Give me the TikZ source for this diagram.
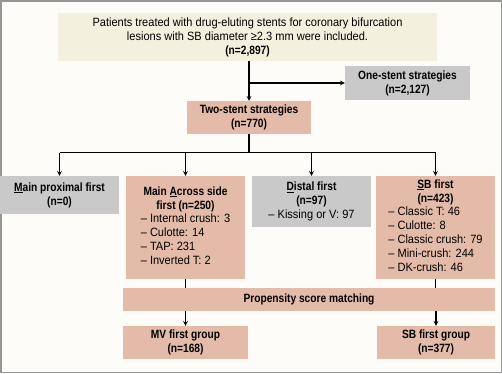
\documentclass[tikz,border=0pt]{standalone}
\usepackage{fontspec}
\setmainfont{Liberation Sans}[FakeStretch=0.92, BoldFeatures={FakeStretch=0.85}]
\usetikzlibrary{positioning}
\usetikzlibrary{arrows}
\definecolor{fondo}{RGB}{253,252,248}
\definecolor{marco}{RGB}{150,150,150}
\definecolor{beige}{RGB}{243,240,222}
\definecolor{rosa}{RGB}{228,187,168}
\definecolor{gris}{RGB}{201,201,201}
\tikzstyle{every caja} = [inner sep=2pt, align=center, font=\fontsize{12}{14}\selectfont]
\tikzstyle{caja} = [draw=none, every caja]
\tikzstyle{link} = [->, >=stealth, line width=1.1pt]

\begin{document}
\begin{tikzpicture}[x=1pt, y=-1pt]
        \fill[fondo] (0,0) rectangle (502,373);
        \draw[marco, line width=1.5pt] (0.75,0.75) rectangle (501.25,372.25);

        \node[caja, fill=beige, minimum width=379pt, minimum height=48pt] (total) at (247.5,37)
            {Patients treated with drug-eluting stents for coronary bifurcation\\
             lesions with SB diameter ≥2.3 mm were included.\\ \textbf{(n=2,897)}};
        \node[caja, fill=gris, minimum width=125pt, minimum height=34pt] (uno) at (407.5,83)
            {\textbf{One-stent strategies}\\ \textbf{(n=2,127)}};
        \node[caja, fill=rosa, minimum width=124pt, minimum height=33pt] (dos) at (249,117.5)
            {\textbf{Two-stent strategies}\\ \textbf{(n=770)}};

        % cuatro tecnicas
        \node[caja, fill=gris, minimum width=119pt, minimum height=38pt] (mp) at (59.5,195)
            {\textbf{\underline{M}ain proximal first}\\ \textbf{(n=0)}};
        \node[caja, fill=rosa, minimum width=119pt, minimum height=103pt] (mas) at (185.5,227.5)
            {\textbf{Main \underline{A}cross side}\\ \textbf{first (n=250)}\\
             \begin{tabular}{@{}l@{}}– Internal crush: 3\\ – Culotte: 14\\ – TAP: 231\\ – Inverted T: 2\end{tabular}};
        \node[caja, fill=gris, minimum width=119pt, minimum height=51pt] (dist) at (311.5,201.5)
            {\textbf{\underline{D}istal first}\\ \textbf{(n=97)}\\ – Kissing or V: 97};
        \node[caja, fill=rosa, minimum width=119pt, minimum height=103pt] (sbf) at (435.5,227.5)
            {\textbf{\underline{S}B first}\\ \textbf{(n=423)}\\
             \begin{tabular}{@{}l@{}}– Classic T: 46\\ – Culotte: 8\\ – Classic crush: 79\\ – Mini-crush: 244\\ – DK-crush: 46\end{tabular}};

        \node[caja, fill=rosa, minimum width=372pt, minimum height=23pt] (psm) at (309,299.5)
            {\textbf{Propensity score matching}};
        \node[caja, fill=rosa, minimum width=125pt, minimum height=33pt] (mv) at (185.5,342.5)
            {\textbf{MV first group}\\ \textbf{(n=168)}};
        \node[caja, fill=rosa, minimum width=118pt, minimum height=33pt] (sbg) at (436,342.5)
            {\textbf{SB first group}\\ \textbf{(n=377)}};

        \coordinate (bus) at (249,152.5);
        \draw[link] (dos.north |- total.south) -- (dos.north);
        \draw[link] (dos.north |- uno.west) -- (uno.west);
        \draw[line width=1.1pt] (dos.south) -- (bus);
        \draw[line width=1.1pt] (mp.north |- bus) -- (sbf.north |- bus);
        \foreach \t in {mp, mas, dist, sbf}
            \draw[link] (\t.north |- bus) -- (\t.north);
        \draw[line width=1.1pt] (mas.south) -- (mas.south |- psm.north);
        \draw[line width=1.1pt] (sbf.south) -- (sbf.south |- psm.north);
        \draw[link] (mv.north |- psm.south) -- (mv.north);
        \draw[link] (sbg.north |- psm.south) -- (sbg.north);
    \end{tikzpicture}
\end{document}
